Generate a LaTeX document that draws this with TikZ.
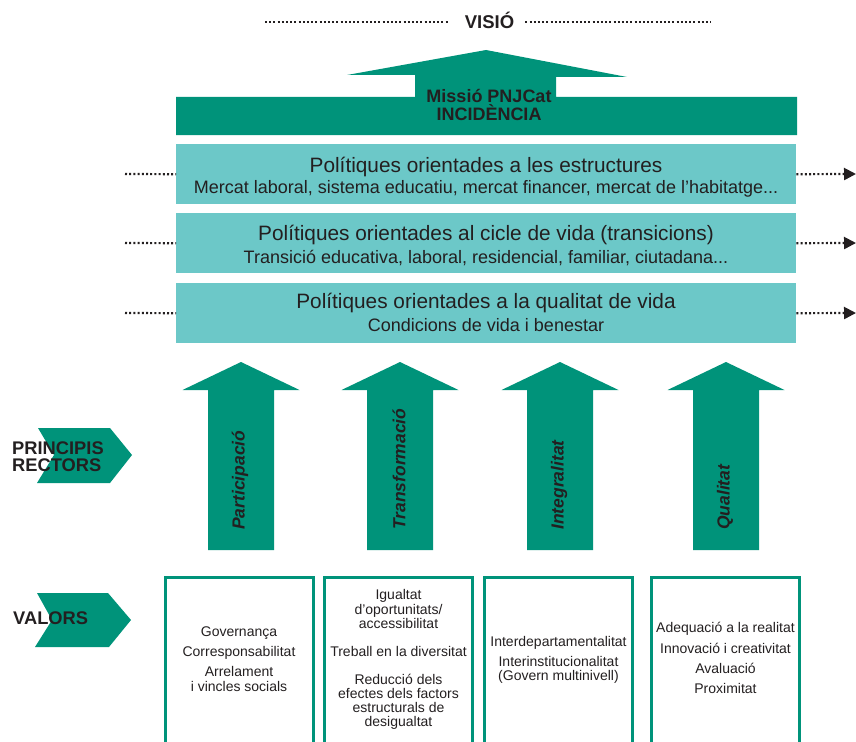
\documentclass[tikz,border=0pt]{standalone}
\usepackage{fontspec}
\setmainfont{Liberation Sans}
\usetikzlibrary{arrows.meta}
\definecolor{dgreen}{RGB}{0,147,122}
\definecolor{lteal}{RGB}{108,200,200}
\definecolor{ink}{RGB}{35,31,32}
\tikzset{
  tealbox/.style={fill=lteal, draw=none, minimum width=620pt, minimum height=60pt, inner sep=0pt, anchor=north west},
  ttl/.style={text=ink, inner sep=0pt, anchor=base, font=\fontsize{20.8}{24}\selectfont},
  sub/.style={text=ink, inner sep=0pt, anchor=base, font=\fontsize{18}{20}\selectfont},
  dotline/.style={draw=ink, line width=2.2pt, dash pattern=on 2pt off 2.2pt},
  dotarrow/.style={dotline, -{Triangle[length=12pt,width=12pt]}},
  greenfill/.style={fill=dgreen, draw=none},
  plbl/.style={text=ink, inner sep=0pt, rotate=90, anchor=west, font=\fontsize{17.5}{20}\bfseries\itshape\selectfont},
  sidelbl/.style={text=ink, inner sep=0pt, anchor=base west, font=\fontsize{18.3}{20}\bfseries\selectfont},
  valbox/.style={draw=none, minimum width=148pt, minimum height=170pt, inner sep=0pt, anchor=north west},
  valline/.style={draw=dgreen, line width=3pt},
  valtxt/.style={text=ink, inner sep=0pt, anchor=base, font=\fontsize{14}{16}\selectfont},
  mtxt/.style={text=ink, inner sep=0pt, anchor=base, font=\fontsize{18}{20}\bfseries\selectfont},
}
\begin{document}
\begin{tikzpicture}[x=1pt,y=-1pt]
\useasboundingbox (0,0) rectangle (856,741);

% VISIO
\node[mtxt, font=\fontsize{18.5}{20}\bfseries\selectfont] (visio) at (489.5,29) {VISIÓ};
\coordinate (vl) at (265,22);
\coordinate (vr) at (711,22);
\draw[dotline] (vl) -- ([xshift=-17pt,yshift=7pt]visio.base west);
\draw[dotline] ([xshift=11pt,yshift=7pt]visio.base east) -- (vr);

% Mission arrow
\path[greenfill] (176,97) -- (415,97) -- (415,75) -- (347,75) -- (486,50) -- (627,77) -- (556,77) -- (556,97) -- (797,97) -- (797,135) -- (176,135) -- cycle;
\node[mtxt] (mis1) at (489,102.5) {Missió PNJCat};
\node[mtxt] (mis2) at (489,120.5) {INCIDÈNCIA};

% Policy boxes
\node[tealbox] (b1) at (176,144) {};
\node[tealbox] (b2) at (176,213) {};
\node[tealbox] (b3) at (176,283) {};
\node[ttl] (t1) at (486,172) {Polítiques orientades a les estructures};
\node[sub] (s1) at (486,193.5) {Mercat laboral, sistema educatiu, mercat financer, mercat de l'habitatge...};
\node[ttl] (t2) at (486,240.5) {Polítiques orientades al cicle de vida (transicions)};
\node[sub] (s2) at (486,263.5) {Transició educativa, laboral, residencial, familiar, ciutadana...};
\node[ttl] (t3) at (486,308.5) {Polítiques orientades a la qualitat de vida};
\node[sub] (s3) at (486,331) {Condicions de vida i benestar};

\coordinate (l1) at (125,174);
\coordinate (l2) at (125,243);
\coordinate (l3) at (125,313);
\coordinate (r1) at (856,174);
\coordinate (r2) at (856,243);
\coordinate (r3) at (856,313);
\draw[dotline] (l1) -- (b1.west);
\draw[dotline] (l2) -- (b2.west);
\draw[dotline] (l3) -- (b3.west);
\draw[dotarrow] (b1.east) -- (r1);
\draw[dotarrow] (b2.east) -- (r2);
\draw[dotarrow] (b3.east) -- (r3);

% Up arrows
\foreach \cx/\lbl/\nm in {241/Participació/pa, 400/Transformació/pb, 560/Integralitat/pc, 726/Qualitat/pd}{
  \path[greenfill] (\cx-33,550) -- (\cx-33,390) -- (\cx-58.5,390) -- (\cx,362) -- (\cx+58.5,390) -- (\cx+33,390) -- (\cx+33,550) -- cycle;
  \node[plbl] (\nm) at (\cx-1,530) {\lbl};
}

% Chevrons
\path[greenfill] (38,428) -- (110,428) -- (132,455) -- (110,483) -- (37,483) -- (54,455) -- cycle;
\node[sidelbl] (pr1) at (12,454) {PRINCIPIS};
\node[sidelbl] (pr2) at (12,471.5) {RECTORS};
\path[greenfill] (37,593) -- (108,593) -- (131,620) -- (109,647) -- (35,647) -- (52,620) -- cycle;
\node[sidelbl] (val) at (13,624) {VALORS};

% Value boxes
\node[valbox] (v1) at (165,577.5) {};
\node[valbox] (v2) at (324.5,577.5) {};
\node[valbox] (v3) at (484.5,577.5) {};
\node[valbox] (v4) at (651.5,577.5) {};
\foreach \v in {v1,v2,v3,v4}{
  \draw[valline] (\v.south west) |- (\v.north east) -- (\v.south east);
}

\node[valtxt] (a1) at (239,636) {Governança};
\node[valtxt] (a2) at (239,656) {Corresponsabilitat};
\node[valtxt] (a3) at (239,676.5) {Arrelament};
\node[valtxt] (a4) at (239,691) {i vincles socials};

\node[valtxt] (c1) at (398.5,599.5) {Igualtat};
\node[valtxt] (c2) at (398.5,614) {d’oportunitats/};
\node[valtxt] (c3) at (398.5,628.5) {accessibilitat};
\node[valtxt] (c4) at (398.5,656.5) {Treball en la diversitat};
\node[valtxt] (c5) at (398.5,684.5) {Reducció dels};
\node[valtxt] (c6) at (398.5,698.5) {efectes dels factors};
\node[valtxt] (c7) at (398.5,712.5) {estructurals de};
\node[valtxt] (c8) at (398.5,726.5) {desigualtat};

\node[valtxt] (d1) at (558.5,646.5) {Interdepartamentalitat};
\node[valtxt] (d2) at (558.5,666.5) {Interinstitucionalitat};
\node[valtxt] (d3) at (558.5,680.5) {(Govern multinivell)};

\node[valtxt] (e1) at (725.5,632.5) {Adequació a la realitat};
\node[valtxt] (e2) at (725.5,653.5) {Innovació i creativitat};
\node[valtxt] (e3) at (725.5,673.5) {Avaluació};
\node[valtxt] (e4) at (725.5,693.5) {Proximitat};
\end{tikzpicture}
\end{document}
